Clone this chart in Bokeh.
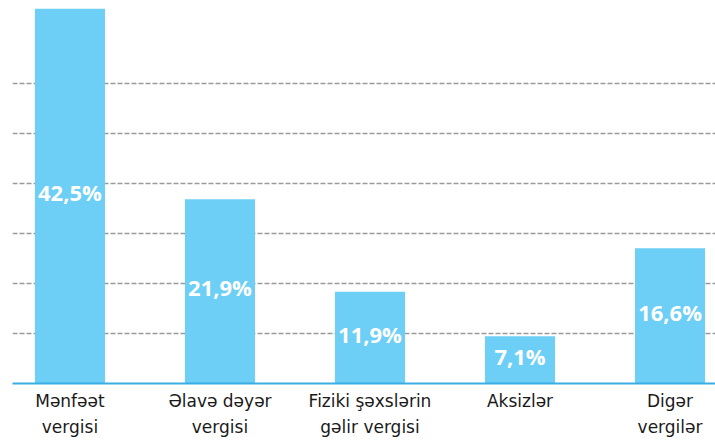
from bokeh.plotting import figure
from bokeh.models import ColumnDataSource, LabelSet, FixedTicker
from bokeh.core.properties import value
from bokeh.embed import file_html
from bokeh.resources import INLINE

categories = ["Mənfəət\nvergisi", "Əlavə dəyər\nvergisi", "Fiziki şəxslərin\ngəlir vergisi", "Aksizlər", "Digər\nvergilər"]
values = [42.5, 21.9, 11.9, 7.1, 16.6]
value_labels = ["42,5%", "21,9%", "11,9%", "7,1%", "16,6%"]
grid_ticks = [7.4, 12.8, 18.2, 23.6, 29.0, 34.4]

Y_START = 2.0
Y_END = 42.5

idx = list(range(len(categories)))
y_mid = [(Y_START + v) / 2 for v in values]

src = ColumnDataSource(dict(x=idx, top=values, lab=value_labels, ymid=y_mid))

p = figure(frame_width=703, frame_height=375, output_backend="svg", toolbar_location=None,
           x_range=(-0.383, 4.303), y_range=(Y_START, Y_END),
           min_border_left=12, min_border_right=0, min_border_top=8, min_border_bottom=5)
p.outline_line_color = None
p.yaxis.visible = False
p.xgrid.visible = False
p.ygrid.ticker = FixedTicker(ticks=grid_ticks)
p.ygrid.grid_line_color = "#9a9a9a"
p.ygrid.grid_line_dash = "5 2"
p.ygrid.grid_line_width = 1.3
p.background_fill_color = "white"
p.border_fill_color = "white"

xa = p.xaxis[0]
xa.ticker = FixedTicker(ticks=idx)
xa.major_label_overrides = {i: c for i, c in zip(idx, categories)}
xa.axis_line_color = "#3aaee2"
xa.axis_line_width = 2
xa.major_tick_line_color = None
xa.minor_tick_line_color = None
xa.major_tick_out = 0
xa.major_tick_in = 0
xa.major_label_standoff = 7
xa.major_label_text_font = "DejaVu Sans"
xa.major_label_text_font_size = "17px"
xa.major_label_text_color = "#1a1a1a"
xa.major_label_text_line_height = 1.3

p.vbar(x="x", top="top", bottom=0, width=0.467, source=src,
       fill_color="#6dcff6", line_color=None)

p.add_layout(LabelSet(x="x", y="ymid", text="lab", source=src, y_offset=4,
                      text_color="white", text_font=value("Open Sans"), text_font_style="bold",
                      text_font_size="22px", text_align="center", text_baseline="middle"))

open("out.html", "w").write(file_html(p, INLINE))
